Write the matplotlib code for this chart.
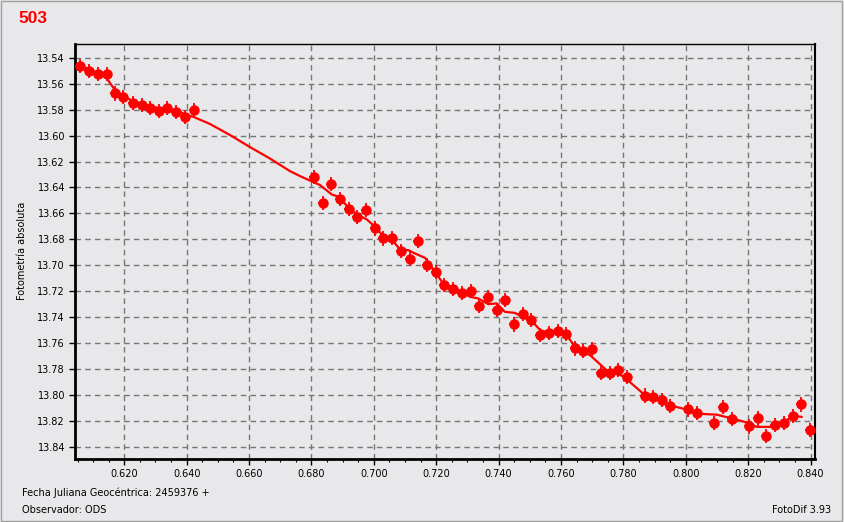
import matplotlib
matplotlib.use("Agg")
import matplotlib.pyplot as plt
import numpy as np
from matplotlib.ticker import MultipleLocator
from matplotlib.patches import Rectangle

# observations (JD - 2459376, magnitude)
jd = [0.6058, 0.6087, 0.6115, 0.6145, 0.6170, 0.6197, 0.6227, 0.6256, 0.6281, 0.6310,
      0.6338, 0.6366, 0.6394, 0.6422,
      0.6808, 0.6836, 0.6863, 0.6891, 0.6920, 0.6947, 0.6975, 0.7004, 0.7030, 0.7057,
      0.7087, 0.7116, 0.7140, 0.7169, 0.7198, 0.7225, 0.7253, 0.7281, 0.7310, 0.7337,
      0.7365, 0.7394, 0.7420, 0.7449, 0.7477, 0.7503, 0.7532, 0.7561, 0.7589, 0.7615,
      0.7645, 0.7672, 0.7700, 0.7727, 0.7757, 0.7782, 0.7810, 0.7868, 0.7895, 0.7923,
      0.7949, 0.8008, 0.8037, 0.8091, 0.8118, 0.8148, 0.8203, 0.8230, 0.8256, 0.8286,
      0.8314, 0.8343, 0.8369, 0.8398]
mag = [13.5464, 13.5500, 13.5528, 13.5528, 13.5675, 13.5701, 13.5747, 13.5765, 13.5786, 13.5809,
       13.5788, 13.5817, 13.5855, 13.5806,
       13.6318, 13.6518, 13.6374, 13.6490, 13.6567, 13.6626, 13.6575, 13.6716, 13.6793, 13.6788,
       13.6889, 13.6953, 13.6811, 13.6999, 13.7051, 13.7151, 13.7182, 13.7213, 13.7197, 13.7315,
       13.7243, 13.7346, 13.7269, 13.7456, 13.7375, 13.7423, 13.7535, 13.7521, 13.7508, 13.7531,
       13.7641, 13.7660, 13.7643, 13.7832, 13.7832, 13.7806, 13.7860, 13.8005, 13.8017, 13.8036,
       13.8085, 13.8111, 13.8140, 13.8215, 13.8092, 13.8183, 13.8243, 13.8181, 13.8316, 13.8233,
       13.8215, 13.8160, 13.8073, 13.8268]

# smoothed curve
fit_jd = [0.6058, 0.6087, 0.6116, 0.6141, 0.6170, 0.6196, 0.6228, 0.6257, 0.6282, 0.6311,
          0.6337, 0.6366, 0.6400, 0.6421, 0.6475, 0.6539, 0.6601, 0.6667, 0.6731, 0.6763,
          0.6827, 0.6865, 0.6881, 0.6897, 0.6924, 0.6950, 0.6977, 0.7004, 0.7030, 0.7057,
          0.7084, 0.7110, 0.7132, 0.7164, 0.7174, 0.7196, 0.7222, 0.7254, 0.7281, 0.7308,
          0.7335, 0.7367, 0.7394, 0.7420, 0.7452, 0.7479, 0.7506, 0.7533, 0.7565, 0.7597,
          0.7618, 0.7645, 0.7661, 0.7693, 0.7746, 0.7799, 0.7863, 0.7922, 0.7949, 0.8003,
          0.8035, 0.8099, 0.8145, 0.8200, 0.8227, 0.8289, 0.8312, 0.8344, 0.8371]
fit_mag = [13.5456, 13.5491, 13.5518, 13.5549, 13.5649, 13.5695, 13.5734, 13.5757, 13.5773, 13.5788,
           13.5796, 13.5803, 13.5842, 13.5855, 13.5911, 13.5996, 13.6086, 13.6177, 13.6274, 13.6312,
           13.6381, 13.6454, 13.6467, 13.6498, 13.6569, 13.6613, 13.6646, 13.6704, 13.6775, 13.6801,
           13.6878, 13.6883, 13.6909, 13.6943, 13.6976, 13.7051, 13.7140, 13.7171, 13.7205, 13.7243,
           13.7256, 13.7300, 13.7294, 13.7359, 13.7367, 13.7402, 13.7429, 13.7500, 13.7523, 13.7521,
           13.7539, 13.7629, 13.7655, 13.7693, 13.7809, 13.7855, 13.7989, 13.8044, 13.8079, 13.8113,
           13.8144, 13.8152, 13.8179, 13.8215, 13.8246, 13.8246, 13.8215, 13.8160, 13.8169]

bg = '#e8e8ea'
red = '#ff0000'

fig = plt.figure(figsize=(8.44, 5.22), dpi=100, facecolor=bg)
ax = fig.add_axes([0.0885, 0.1201, 0.8771, 0.7956], facecolor=bg)

ax.plot(fit_jd, fit_mag, color=red, lw=1.6, zorder=3)
ax.errorbar(jd, mag, yerr=0.0055, xerr=0.0016, fmt='o', color=red, ms=6.5,
            elinewidth=1.3, capsize=0, zorder=4)

ax.set_xlim(0.6041, 0.8414)
ax.set_ylim(13.8496, 13.5294)
ax.xaxis.set_major_locator(MultipleLocator(0.02))
ax.xaxis.set_minor_locator(MultipleLocator(0.005))
ax.yaxis.set_major_locator(MultipleLocator(0.02))
ax.xaxis.set_major_formatter(plt.FuncFormatter(lambda v, p: "%.3f" % v))
ax.yaxis.set_major_formatter(plt.FuncFormatter(lambda v, p: "%.2f" % v))
ax.grid(True, which='major', color='#767676', ls=(0, (4, 3)), lw=1.0)
ax.tick_params(axis='both', which='major', labelsize=7, length=4, width=1, colors='#000000', pad=3)
ax.tick_params(axis='x', which='minor', length=2.5, width=0.8)

for s in ['left', 'bottom']:
    ax.spines[s].set_linewidth(2)
ax.spines['top'].set_linewidth(1)
ax.spines['right'].set_linewidth(1.5)

fig.text(0.0213, 0.9655, '503', color=red, fontsize=12.5, fontweight='bold',
         family='Liberation Sans', ha='left', va='center')
fig.text(0.026, 0.52, 'Fotometría absoluta', rotation=90, fontsize=7,
         ha='center', va='center')
fig.text(0.026, 0.0555, 'Fecha Juliana Geocéntrica: 2459376 +', fontsize=7, ha='left', va='center')
fig.text(0.026, 0.0225, 'Observador: ODS', fontsize=7, ha='left', va='center')
fig.text(0.985, 0.0225, 'FotoDif 3.93', fontsize=7, ha='right', va='center')

fig.patches.append(Rectangle((0.001, 0.002), 0.997, 0.996, transform=fig.transFigure,
                             fill=False, edgecolor='#a0a0a0', lw=1))

fig.savefig('out.png', dpi=100, facecolor=bg)
